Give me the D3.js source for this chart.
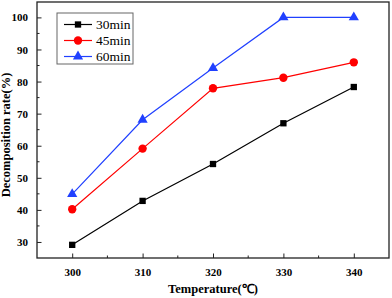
<!DOCTYPE html>
<html>
<head>
<meta charset="utf-8">
<script src="https://cdn.jsdelivr.net/npm/d3@7"></script>
<style>
  body { margin: 0; background: #fff; }
  svg text { font-family: "Liberation Serif", "Times New Roman", serif; }
  .tick text { font-weight: bold; font-size: 11px; fill: #000; }
  .axis path, .axis line { stroke: #222; }
</style>
</head>
<body>
<div id="chart"></div>
<script>
// data
var temps = [300, 310, 320, 330, 340];
var rate30 = [29.1, 42.8, 54.3, 67.0, 78.3];
var rate45 = [40.2, 59.1, 77.9, 81.2, 86.0];
var rate60 = [44.9, 68.1, 84.2, 100, 100];
var seriesNames = ["30min", "45min", "60min"];
var xTicks = [300, 310, 320, 330, 340];
var yTicks = [30, 40, 50, 60, 70, 80, 90, 100];

var width = 392,
    height = 298;
// plot box (note: "top" is taken by window.top, so use other names)
var plotL = 37, plotR = 389, plotT = 2, plotB = 258;

var svg = d3.select("#chart").append("svg")
    .attr("width", width)
    .attr("height", height);

var xScale = d3.scaleLinear().domain([295, 345]).range([plotL, plotR]);
var yScale = d3.scaleLinear().domain([25, 104.8]).range([plotB, plotT]);

// frame
svg.append("rect")
    .attr("x", plotL).attr("y", plotT)
    .attr("width", plotR - plotL).attr("height", plotB - plotT)
    .attr("fill", "none").attr("stroke", "#222").attr("stroke-width", 1.3);

// minor ticks
var xMinor = [305, 315, 325, 335];
svg.append("g").selectAll("line").data(xMinor).enter().append("line")
    .attr("x1", function(d) { return xScale(d); }).attr("x2", function(d) { return xScale(d); })
    .attr("y1", plotB).attr("y2", plotB - 2.5)
    .attr("stroke", "#222");
var yMinor = [35, 45, 55, 65, 75, 85, 95];
svg.append("g").selectAll("line").data(yMinor).enter().append("line")
    .attr("y1", function(d) { return yScale(d); }).attr("y2", function(d) { return yScale(d); })
    .attr("x1", plotL).attr("x2", plotL + 2.5)
    .attr("stroke", "#222");

// axes, ticks inward
var xAxis = d3.axisBottom(xScale).tickValues(xTicks).tickSizeInner(-4.5).tickSizeOuter(0).tickPadding(10);
svg.append("g")
    .attr("class", "axis")
    .attr("transform", "translate(0," + plotB + ")")
    .call(xAxis)
    .select(".domain").remove();

var yAxis = d3.axisLeft(yScale).tickValues(yTicks).tickSizeInner(-4.5).tickSizeOuter(0).tickPadding(9);
svg.append("g")
    .attr("class", "axis")
    .attr("transform", "translate(" + plotL + ",0)")
    .call(yAxis)
    .select(".domain").remove();

// axis titles
svg.append("text")
    .text("Temperature(\u2103)")
    .attr("x", 213).attr("y", 293)
    .attr("text-anchor", "middle")
    .attr("font-weight", "bold").attr("font-size", 12.5);

svg.append("text")
    .text("Decomposition rate(%)")
    .attr("transform", "translate(10," + 135 + ") rotate(-90)")
    .attr("text-anchor", "middle")
    .attr("font-weight", "bold").attr("font-size", 12.5);

// series
var series = [
    { name: seriesNames[0], values: rate30, color: "#000000", shape: d3.symbolSquare, size: 40 },
    { name: seriesNames[1], values: rate45, color: "#ff0000", shape: d3.symbolCircle, size: 55 },
    { name: seriesNames[2], values: rate60, color: "#2040ff", shape: d3.symbolTriangle, size: 45 }
];

var line = d3.line()
    .x(function(d, i) { return xScale(temps[i]); })
    .y(function(d) { return yScale(d); });

series.forEach(function(s) {
    svg.append("path")
        .datum(s.values)
        .attr("fill", "none")
        .attr("stroke", s.color)
        .attr("stroke-width", 1.2)
        .attr("d", line);

    svg.append("g").selectAll("path")
        .data(s.values).enter().append("path")
        .attr("d", d3.symbol().type(s.shape).size(s.size))
        .attr("fill", s.color)
        .attr("transform", function(d, i) {
            return "translate(" + xScale(temps[i]) + "," + yScale(d) + ")";
        });
});

// legend
var legend = svg.append("g");
legend.append("rect")
    .attr("x", 57).attr("y", 13)
    .attr("width", 76).attr("height", 51)
    .attr("fill", "#fff").attr("stroke", "#666").attr("stroke-width", 1);

series.forEach(function(s, i) {
    var ly = 24.5 + i * 16;
    legend.append("line")
        .attr("x1", 64).attr("x2", 92)
        .attr("y1", ly).attr("y2", ly)
        .attr("stroke", s.color).attr("stroke-width", 1.2);
    legend.append("path")
        .attr("d", d3.symbol().type(s.shape).size(s.size))
        .attr("fill", s.color)
        .attr("transform", "translate(78," + ly + ")");
    legend.append("text")
        .text(s.name)
        .attr("x", 96).attr("y", ly + 4.5)
        .attr("font-size", 13.5);
});
</script>
</body>
</html>
